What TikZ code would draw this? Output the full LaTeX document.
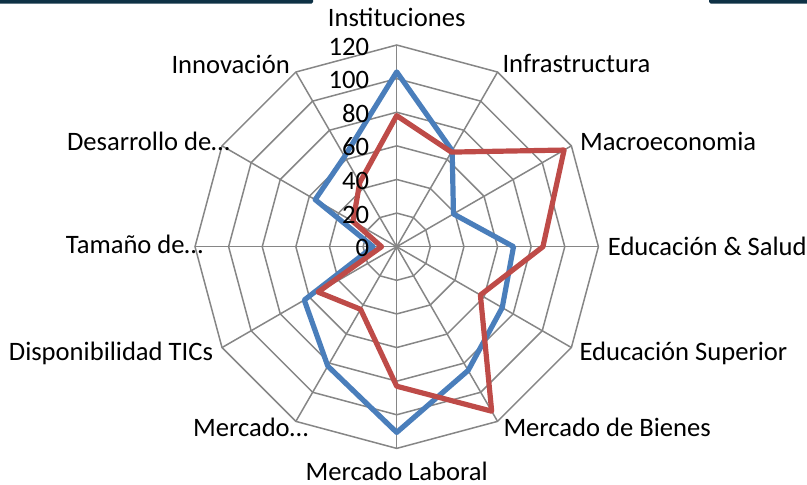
\documentclass[tikz,border=0pt]{standalone}
\usepackage{fontspec}
\setmainfont{Carlito}
\definecolor{gridgray}{HTML}{868686}
\definecolor{blueS}{HTML}{4A7EBB}
\definecolor{redS}{HTML}{BE4B48}
\definecolor{barcol}{HTML}{0E3145}
\begin{document}
\begin{tikzpicture}[x=1pt,y=-1pt,
  gridline/.style={draw=gridgray, line width=1.5pt},
  series/.style={line width=5.2pt, line join=round},
  lbl/.style={inner sep=0pt, font=\fontsize{26.6}{30}\selectfont},
]
\useasboundingbox (0,0) rectangle (807,485);
% top bars
\fill[barcol, rounded corners=1.5pt] (-5,-5) rectangle (313,3.5);
\fill[barcol, rounded corners=1.5pt] (709,3.5) rectangle (812,-5);
\coordinate (c) at (396.7,246.7);
\begin{scope}[shift={(c)}, x=1.6808pt, y=-1.6808pt]
  % rings
  \foreach \k in {20,40,...,120}{
    \draw[gridline] (-90:\k) \foreach \a in {1,...,11}{ -- ({-90+30*\a}:\k)} -- cycle;
  }
  % spokes
  \foreach \a in {0,...,11}{
    \draw[gridline] (0,0) -- ({-90+30*\a}:120);
  }
  % blue series
  \draw[series, draw=blueS] (-90:104) -- (-60:66) -- (-30:39) -- (0:69.5) -- (30:72.5)
    -- (60:85) -- (90:110.5) -- (120:82) -- (150:63.5) -- (180:14) -- (210:56) -- (240:62) -- cycle;
  % red series
  \draw[series, draw=redS] (-90:78) -- (-60:65) -- (-30:115) -- (0:87) -- (30:57.5)
    -- (60:113) -- (90:83) -- (120:43) -- (150:54) -- (180:9) -- (210:30) -- (240:44) -- cycle;
\end{scope}
% tick labels
\foreach \v in {0,20,...,120}{
  \node[lbl, anchor=base east] (t\v) at (369.3,{256.7-\v*1.6808}) {\v};
}
% category labels
\node[lbl, anchor=base] (l0) at (396.7,26) {Instituciones};
\node[lbl, anchor=base west] (l1) at (502.3,72.7) {Infrastructura};
\node[lbl, anchor=base west] (l2) at (580,150) {Macroeconomia};
\node[lbl, anchor=base west] (l3) at (607.7,255) {Educación \& Salud};
\node[lbl, anchor=base west] (l4) at (579.3,360) {Educación Superior};
\node[lbl, anchor=base west] (l5) at (503.3,436.7) {Mercado de Bienes};
\node[lbl, anchor=base] (l6) at (396.7,480.2) {Mercado Laboral};
\node[lbl, anchor=base east] (l7) at (308.3,436.7) {Mercado…};
\node[lbl, anchor=base east] (l8) at (213.3,360) {Disponibilidad TICs};
\node[lbl, anchor=base east] (l9) at (203.3,253.3) {Tamaño de…};
\node[lbl, anchor=base east] (l10) at (230,150) {Desarrollo de…};
\node[lbl, anchor=base east] (l11) at (290,73.3) {Innovación};
\end{tikzpicture}
\end{document}
